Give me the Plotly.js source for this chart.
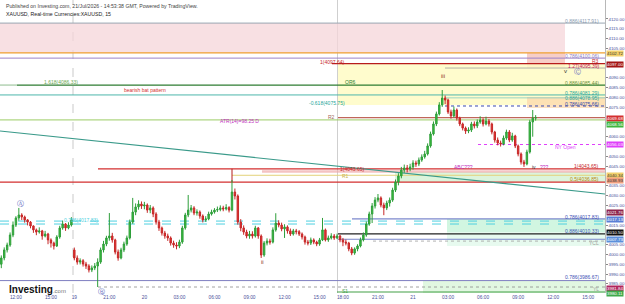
<!DOCTYPE html>
<html><head><meta charset="utf-8">
<script src="https://cdn.plot.ly/plotly-3.0.1.min.js"></script>
<style>html,body{margin:0;padding:0;background:#fff;}#chart{width:625px;height:304px;}</style>
</head><body><div id="chart"></div>
<script>
// ---------- DATA (XAUUSD 15m) ----------
const opens = [
3995.0,3998.2,4002.3,4004.8,4009.9,4015.0,4018.6,4020.1,4019.1,4017.6,4016.5,4014.5,4012.5,4011.4,4012.0,4009.4,4010.4,4007.4,4005.8,4004.3,4008.9,4013.5,4015.5,4013.5,4015.0,
4002.3,3998.2,3996.1,3996.8,3995.1,3994.1,3992.1,3993.1,3994.1,3996.1,4002.3,4005.3,4008.4,4009.4,4007.4,4001.2,3998.2,4002.3,4005.3,4008.4,4016.5,4021.6,4024.2,4025.7,4024.7,
4025.2,4022.6,4023.7,4020.6,4016.5,4013.5,4010.9,4009.4,4008.4,4005.8,4004.8,4004.3,4006.3,4013.5,4020.1,4022.6,4023.7,4021.1,4021.6,4019.6,4017.6,4018.1,4020.6,4021.6,4022.6,
4022.9,4023.7,4023.2,4023.9,4022.6,4031.8,4029.8,4016.5,4013.5,4011.4,4009.4,4010.4,4009.4,4013.5,4009.4,3999.7,4005.8,4006.8,4006.3,4012.5,4016.0,4015.0,4013.0,4014.0,4012.0,
4010.4,4012.0,4011.6,4010.4,4008.9,4006.3,4005.8,4007.4,4006.3,4005.3,4007.4,4012.5,4007.4,4008.4,4009.4,4008.4,4009.4,
4007.4,4006.3,4005.8,4002.8,4000.7,4002.8,4004.3,4007.4,4009.9,4015.5,4020.6,4024.7,4027.7,4028.8,4025.2,4023.7,4026.2,4027.7,4032.8,4036.9,4040.0,4043.0,4044.1,4043.5,4044.6,
4046.6,4046.1,4048.1,4049.7,4051.2,4055.3,4061.4,4066.5,4071.6,4076.2,4079.7,4078.7,4072.6,4070.6,4073.6,4069.5,4066.5,4064.4,4062.9,4063.4,4066.5,4065.5,4067.5,4068.5,4066.5,
4068.0,4066.5,4062.4,4058.3,4056.8,4056.3,4059.3,4062.4,4058.3,4060.4,4055.3,4051.2,4047.1,4046.1,4052.2,4067.5,4069.5];
const highs = [
3999.5,4003.6,4006.0,4011.2,4016.8,4019.5,4023.7,4021.0,4019.8,4018.0,4017.0,4014.8,4013.2,4013.8,4012.5,4012.0,4011.0,4008.2,4006.5,4009.8,4014.6,4017.2,4016.0,4016.4,4019.0,
4003.5,3999.5,3998.0,3997.6,3996.2,3995.0,3994.4,3995.6,3998.0,4003.5,4006.9,4009.5,4021.1,4011.0,4008.0,4002.5,4003.4,4006.5,4009.6,4017.8,4028.8,4026.0,4027.6,4027.0,4026.8,
4026.0,4025.2,4024.5,4021.5,4017.6,4014.2,4012.0,4010.6,4009.2,4007.0,4006.2,4007.5,4014.6,4021.2,4030.3,4025.2,4024.6,4023.0,4022.4,4020.4,4019.5,4021.8,4022.8,4023.6,4024.4,
4025.0,4024.8,4025.6,4024.6,4037.9,4033.6,4030.6,4018.0,4014.8,4012.6,4012.0,4011.8,4014.6,4014.0,4010.2,4006.8,4008.2,4008.0,4013.8,4021.0,4017.4,4016.2,4015.4,4014.8,4013.2,
4013.0,4013.0,4012.4,4011.2,4009.6,4007.4,4008.6,4008.2,4007.0,4008.4,4018.6,4013.2,4009.6,4010.8,4010.4,4010.6,4010.0,
4008.4,4007.6,4006.4,4003.8,4003.6,4005.2,4008.6,4011.2,4016.8,4021.8,4026.2,4029.2,4030.8,4029.6,4026.4,4027.4,4029.0,4034.0,4038.2,4041.4,4044.6,4045.8,4045.6,4046.2,4048.0,
4047.8,4049.4,4051.0,4052.8,4056.6,4062.6,4067.8,4072.8,4077.6,4083.8,4081.0,4079.4,4073.8,4075.4,4074.4,4070.2,4067.2,4065.2,4064.8,4067.6,4067.8,4068.8,4070.4,4069.4,4070.2,
4069.0,4067.2,4063.0,4059.6,4058.0,4060.6,4063.6,4063.4,4062.0,4061.0,4056.0,4052.0,4048.2,4053.4,4068.6,4073.6,4071.0];
const lows = [
3993.0,3997.0,4001.0,4003.9,4008.8,4014.0,4017.2,4017.5,4016.2,4014.8,4013.3,4011.0,4009.8,4010.6,4007.5,4008.7,4005.2,4003.5,4002.5,4003.8,4008.0,4012.6,4012.0,4012.8,4014.2,
3997.0,3994.8,3994.9,3993.8,3992.6,3990.8,3991.0,3992.0,3983.4,3995.2,4001.0,4004.2,4007.0,4006.0,4000.0,3996.8,3997.5,4001.2,4004.4,4007.6,4015.6,4020.0,4022.8,4023.2,4023.0,
4021.2,4021.0,4019.0,4015.2,4012.0,4009.6,4008.0,4006.9,4004.5,4003.4,4002.6,4003.2,4005.4,4012.6,4019.0,4021.4,4020.0,4019.8,4018.2,4016.3,4016.6,4017.4,4019.8,4020.8,4021.6,
4022.0,4022.0,4022.4,4021.4,4022.0,4028.0,4015.2,4011.8,4010.0,4008.2,4008.0,4008.1,4008.6,4008.0,3998.2,3998.8,4004.6,4005.0,4005.6,4011.6,4013.8,4011.8,4008.4,4010.6,4009.4,
4009.6,4010.2,4009.4,4007.6,4005.0,4004.6,4004.8,4005.2,4004.2,4004.4,4006.8,4006.6,4006.4,4007.6,4007.4,4007.8,4006.2,
4004.2,4004.6,4001.6,3999.6,3999.8,4001.6,4003.6,4006.6,4009.0,4014.6,4016.0,4023.4,4026.6,4024.0,4020.0,4022.6,4024.4,4026.8,4031.8,4035.2,4038.8,4041.6,4041.8,4042.4,4043.2,
4044.6,4045.0,4047.2,4048.8,4050.4,4054.4,4060.6,4065.4,4070.8,4075.2,4076.6,4071.6,4069.2,4069.8,4068.2,4065.4,4063.2,4061.4,4061.8,4062.4,4064.2,4064.4,4066.6,4065.2,4065.8,
4065.2,4061.2,4057.0,4055.6,4055.0,4055.6,4058.4,4057.2,4057.4,4054.2,4050.0,4045.8,4044.6,4045.4,4051.4,4060.0,4068.2];
const closes = [
3998.2,4002.3,4004.8,4009.9,4015.0,4018.6,4020.1,4019.1,4017.6,4016.5,4014.5,4012.5,4011.4,4012.0,4009.4,4010.4,4007.4,4005.8,4004.3,4008.9,4013.5,4015.5,4013.5,4015.0,4017.6,
3998.2,3996.1,3996.8,3995.1,3994.1,3992.1,3993.1,3994.1,3996.1,4002.3,4005.3,4008.4,4009.4,4007.4,4001.2,3998.2,4002.3,4005.3,4008.4,4016.5,4021.6,4024.2,4025.7,4024.7,4025.2,
4022.6,4023.7,4020.6,4016.5,4013.5,4010.9,4009.4,4008.4,4005.8,4004.8,4004.3,4006.3,4013.5,4020.1,4022.6,4023.7,4021.1,4021.6,4019.6,4017.6,4018.1,4020.6,4021.6,4022.6,4022.9,
4023.7,4023.2,4023.9,4022.6,4031.8,4029.8,4016.5,4013.5,4011.4,4009.4,4010.4,4009.4,4013.5,4009.4,3999.7,4005.8,4006.8,4006.3,4012.5,4016.0,4015.0,4013.0,4014.0,4012.0,4010.4,
4012.0,4011.6,4010.4,4008.9,4006.3,4005.8,4007.4,4006.3,4005.3,4007.4,4012.5,4007.4,4008.4,4009.4,4008.4,4009.4,4007.4,
4006.3,4005.8,4002.8,4000.7,4002.8,4004.3,4007.4,4009.9,4015.5,4020.6,4024.7,4027.7,4028.8,4025.2,4023.7,4026.2,4027.7,4032.8,4036.9,4040.0,4043.0,4044.1,4043.5,4044.6,4046.6,
4046.1,4048.1,4049.7,4051.2,4055.3,4061.4,4066.5,4071.6,4076.2,4079.7,4078.7,4072.6,4070.6,4073.6,4069.5,4066.5,4064.4,4062.9,4063.4,4066.5,4065.5,4067.5,4068.5,4066.5,4068.0,
4066.5,4062.4,4058.3,4056.8,4056.3,4059.3,4062.4,4058.3,4060.4,4055.3,4051.2,4047.1,4046.1,4052.2,4067.5,4069.5,4069.7];

const timeTickBars = [5,17,25,37,49,61,73,85,97,109,117,129,141,153,165,177,189,201];
const timeTickText = ['12:00','15:00','19','21:00','20','03:00','06:00','09:00','12:00','15:00','18:00','21:00','21','03:00','06:00','09:00','12:00','15:00'];

// axis ticks left visible (the others sit under price tags)
const priceTicks = [4120,4115,4110,4105,4090,4085,4080,4075,4060,4050,4045,4035,4030,4025,4015,4005,4000,3995,3990,3985];

// horizontal level values
const levelValues = [4117.91,4102.72,4100.06,4097.30,4095.00,4086.33,4081.29,4079.80,4075.66,4069.68,4068.56,4056.03,4043.65,4040.34,4036.85,4018.10,4017.00,4015.50,4010.50,4007.73,4006.80,3986.67,3983.40,3980.85];
// zones [low, high]
const zoneLow  = [4102.72,4095.00,4076.20,4074.60,4036.90,4041.60,4011.40,4004.30,3980.34];
const zoneHigh = [4117.91,4102.72,4097.00,4080.20,4042.00,4042.90,4018.10,4011.40,3986.50];
// diagonal trend line prices at left / right edges
const trendPrices = [4062.9,4030.8];
// price tags on the axis
const tagValues = [4102.72,4097.00,4069.68,4068.56,4056.03,4040.34,4038.93,4021.76,4017.13,4010.50,4007.73,3981.84,3980.11];

// ---------- LAYOUT GEOMETRY ----------
const W=625,H=304,PR=20,PB=11;
const plotW=W-PR, plotH=H-PB;
const X0=-0.45, X1=206.75, Y0=3980.34, Y1=4129.68;
const xd = px => X0 + px/plotW*(X1-X0);      // pixel -> bar index
const xp = px => px/plotW;                    // pixel -> paper x
const yp = py => 1 - py/plotH;                // pixel -> paper y
const FONT = 'Liberation Sans, Arial, sans-serif';

const barIdx = closes.map((_,i)=>i);

const traces = [{
  type:'candlestick', x:barIdx, open:opens, high:highs, low:lows, close:closes,
  increasing:{line:{color:'#2e9e3a',width:1},fillcolor:'#3cc23c'},
  decreasing:{line:{color:'#c62828',width:1},fillcolor:'#e8302f'},
  whiskerwidth:0, hoverinfo:'skip', showlegend:false
}];

const shapes = [];
const zoneStyle = [
 [0,565,'rgba(246,214,218,0.75)'],
 [527,565,'rgba(244,190,180,0.75)'],
 [338,605,'rgba(255,251,196,0.85)'],
 [527,605,'rgba(252,214,170,0.7)'],
 [395,605,'rgba(205,240,205,0.7)'],
 [262,605,'rgba(240,170,170,0.7)'],
 [447,605,'rgba(190,242,212,0.7)'],
 [447,605,'rgba(215,247,228,0.6)'],
 [423,605,'rgba(205,242,205,0.6)']
];
zoneLow.forEach((lo,k)=>{
  const s=zoneStyle[k];
  shapes.push({type:'rect',xref:'x',yref:'y',x0:xd(s[0]),x1:xd(s[1]),y0:lo,y1:zoneHigh[k],fillcolor:s[2],line:{width:0},layer:'below'});
});
shapes.push({type:'line',xref:'x',yref:'paper',x0:xd(73),x1:xd(73),y0:0,y1:1,line:{color:'#c9c9c9',width:1,dash:'dash'},layer:'below'});
shapes.push({type:'line',xref:'x',yref:'paper',x0:xd(337.5),x1:xd(337.5),y0:0,y1:1,line:{color:'#cfcfcf',width:1},layer:'below'});

const levelStyle = [
 [0,605,'#9aa6b2',1,'solid'],
 [0,605,'#f0a030',1.2,'solid'],
 [0,605,'#9c82c8',1,'solid'],
 [332,605,'#b71c1c',1.2,'solid'],
 [445,605,'#a0a0a0',0.8,'solid'],
 [17,605,'#2e7d32',1.3,'solid'],
 [0,605,'#4db6ac',1,'solid'],
 [445,605,'#80cbc4',0.8,'solid'],
 [445,605,'#3949ab',1,'dot'],
 [338,605,'#c0665a',1.2,'solid'],
 [0,605,'#9ccc65',1,'solid'],
 [478,605,'#e040fb',1,'dot'],
 [98,605,'#d32f2f',1.3,'solid'],
 [232,605,'#e3d27a',1,'solid'],
 [0,605,'#d32f2f',1.3,'solid'],
 [352,605,'#5c6bc0',1,'solid'],
 [0,605,'#4dd0e1',1,'dash'],
 [0,605,'#4dd0e1',1,'dash'],
 [338,605,'#222222',1.3,'solid'],
 [338,605,'#7986cb',1,'solid'],
 [373,605,'#9e9e9e',0.8,'dot'],
 [0,605,'#7e7ec0',1,'solid'],
 [98,605,'#8a8a8a',0.8,'dot'],
 [337,605,'#43a047',1.2,'solid']
];
levelValues.forEach((v,k)=>{
  const s=levelStyle[k];
  shapes.push({type:'line',xref:'x',yref:'y',x0:xd(s[0]),x1:xd(s[1]),y0:v,y1:v,line:{color:s[2],width:s[3],dash:s[4]},layer:'below'});
});
shapes.push({type:'line',xref:'x',yref:'y',x0:xd(0),x1:xd(17),y0:levelValues[5],y1:levelValues[5],line:{color:'#8fbc8f',width:1},layer:'below'});
shapes.push({type:'line',xref:'x',yref:'y',x0:xd(232),x1:xd(232),y0:levelValues[14],y1:levelValues[12],line:{color:'#b71c1c',width:1},layer:'below'});
shapes.push({type:'line',xref:'x',yref:'y',x0:X0,x1:X1,y0:trendPrices[0],y1:trendPrices[1],line:{color:'#3a9a8a',width:1.1},layer:'below'});

const ann = [];
function txt(t,px,py,color,anchor,size,extra){
  ann.push(Object.assign({text:t,xref:'paper',yref:'paper',x:xp(px),y:yp(py),xanchor:anchor||'left',yanchor:'middle',showarrow:false,font:{family:FONT,size:size||5,color:color}},extra||{}));
}
txt('Published on Investing.com, 21/Jul/2026 - 14:53:38 GMT, Powered by TradingView.',4,6,'#444','left',5.2);
txt('XAUUSD, Real-time Currencies:XAUUSD, 15',4,14,'#222','left',5.2);
txt('0.886(4117.91)',601,21,'#8a9bb0','right');
txt('0.786(4100.06)',601,56,'#8e7cc3','right');
txt('1.27(4095.39)',601,66,'#c2185b','right');
txt('R3',601,61,'#c62828','right');
txt('0.886(4085.44)',601,83,'#6a8f3a','right');
txt('0.786(4081.29)',601,93,'#26a69a','right');
txt('0.886(4078.95)',601,98,'#26a69a','right');
txt('0.786(4075.66)',601,104,'#3949ab','right');
txt('NY Open',578,147,'#e040fb','right');
txt('1(4043.65)',601,166,'#c62828','right');
txt('0.5(4036.85)',601,179,'#b8860b','right');
txt('0.786(4017.83)',601,217,'#3f51b5','right');
txt('0.886(4010.33)',601,231,'#3f51b5','right');
txt('YCL',601,243,'#9e9e9e','right');
txt('0.786(3986.67)',601,277,'#3f51b5','right');
txt('YL',601,289,'#9e9e9e','right');
txt('1(4097.64)',347,62,'#c62828','right');
txt('v',565,71,'#333','center',6);
txt('Ⓒ',577,71,'#5c6bc0','center',7);
txt('1.618(4086.33)',42,82,'#6aa84f','left');
txt('OR6',343,82,'#2e7d32','left');
txt('iii',443,76,'#8b1a1a','center',6);
txt('bearish bat pattern',122,90,'#d32f2f','left');
txt('-0.618(4075.75)',347,103,'#26a69a','right');
txt('R2',337,117,'#a1665a','right');
txt('ATR(14)=98.25 D',218,121,'#c02cc0','left');
txt('ABC???',452,167,'#c02cc0','left');
txt('iv',530,167,'#333','left');
txt('???',538,167,'#c02cc0','left');
txt('1(4043.65)',338,169,'#c62828','left');
txt('R1',340,176,'#c9b44a','left');
txt('Ⓐ',20,203,'#5c6bc0','center',7);
txt('0.786(4017.83)',62,220,'#4dd0e1','left');
txt('ii',262,262,'#8b1a1a','center',6);
txt('S1',340,291,'#43a047','left');
txt('Ⓑ',101,291,'#5c6bc0','center',7);
txt('<b>Investing</b><span style="font-size:6px;color:#777">.com</span>',7,289,'#111','left',10);

const tagStyle = [
 [53,'#f2d06b','#333'],[64,'#a31515','#fff'],[118,'#d32f2f','#fff'],[124.5,'#3fb63f','#fff'],
 [144,'#e040fb','#fff'],[175,'#f2d06b','#333'],[180.5,'#f0a080','#333'],[212,'#8e244d','#fff'],
 [219,'#5b7fd6','#fff'],[233,'#111111','#fff'],[239.5,'#5b8fdb','#fff'],[288,'#b0245c','#fff'],[293.5,'#3fa94a','#fff']
];
tagValues.forEach((v,k)=>{
  const s=tagStyle[k];
  ann.push({text:v.toFixed(2),xref:'paper',yref:'paper',x:xp(606),y:yp(s[0]),xanchor:'left',yanchor:'middle',showarrow:false,
    bgcolor:s[1],borderpad:0,font:{family:FONT,size:4.4,color:s[2]}});
});

const layout = {
  width:W,height:H,margin:{l:0,r:PR,t:0,b:PB},paper_bgcolor:'#fff',plot_bgcolor:'#fff',
  showlegend:false,
  xaxis:{range:[X0,X1],type:'linear',rangeslider:{visible:false},showgrid:false,zeroline:false,
    tickvals:timeTickBars,ticktext:timeTickText,ticks:'',tickfont:{family:FONT,size:4.8,color:'#4a4f9a'},showline:false},
  yaxis:{range:[Y0,Y1],side:'right',showgrid:false,zeroline:false,tickvals:priceTicks,
    ticktext:priceTicks.map(v=>v.toFixed(2)),ticks:'outside',ticklen:2,tickcolor:'#888',
    tickfont:{family:FONT,size:4.4,color:'#4a4f9a'},showline:true,linecolor:'#888',linewidth:0.6},
  shapes:shapes, annotations:ann
};
Plotly.newPlot('chart',traces,layout,{staticPlot:true,displayModeBar:false});
</script></body></html>
